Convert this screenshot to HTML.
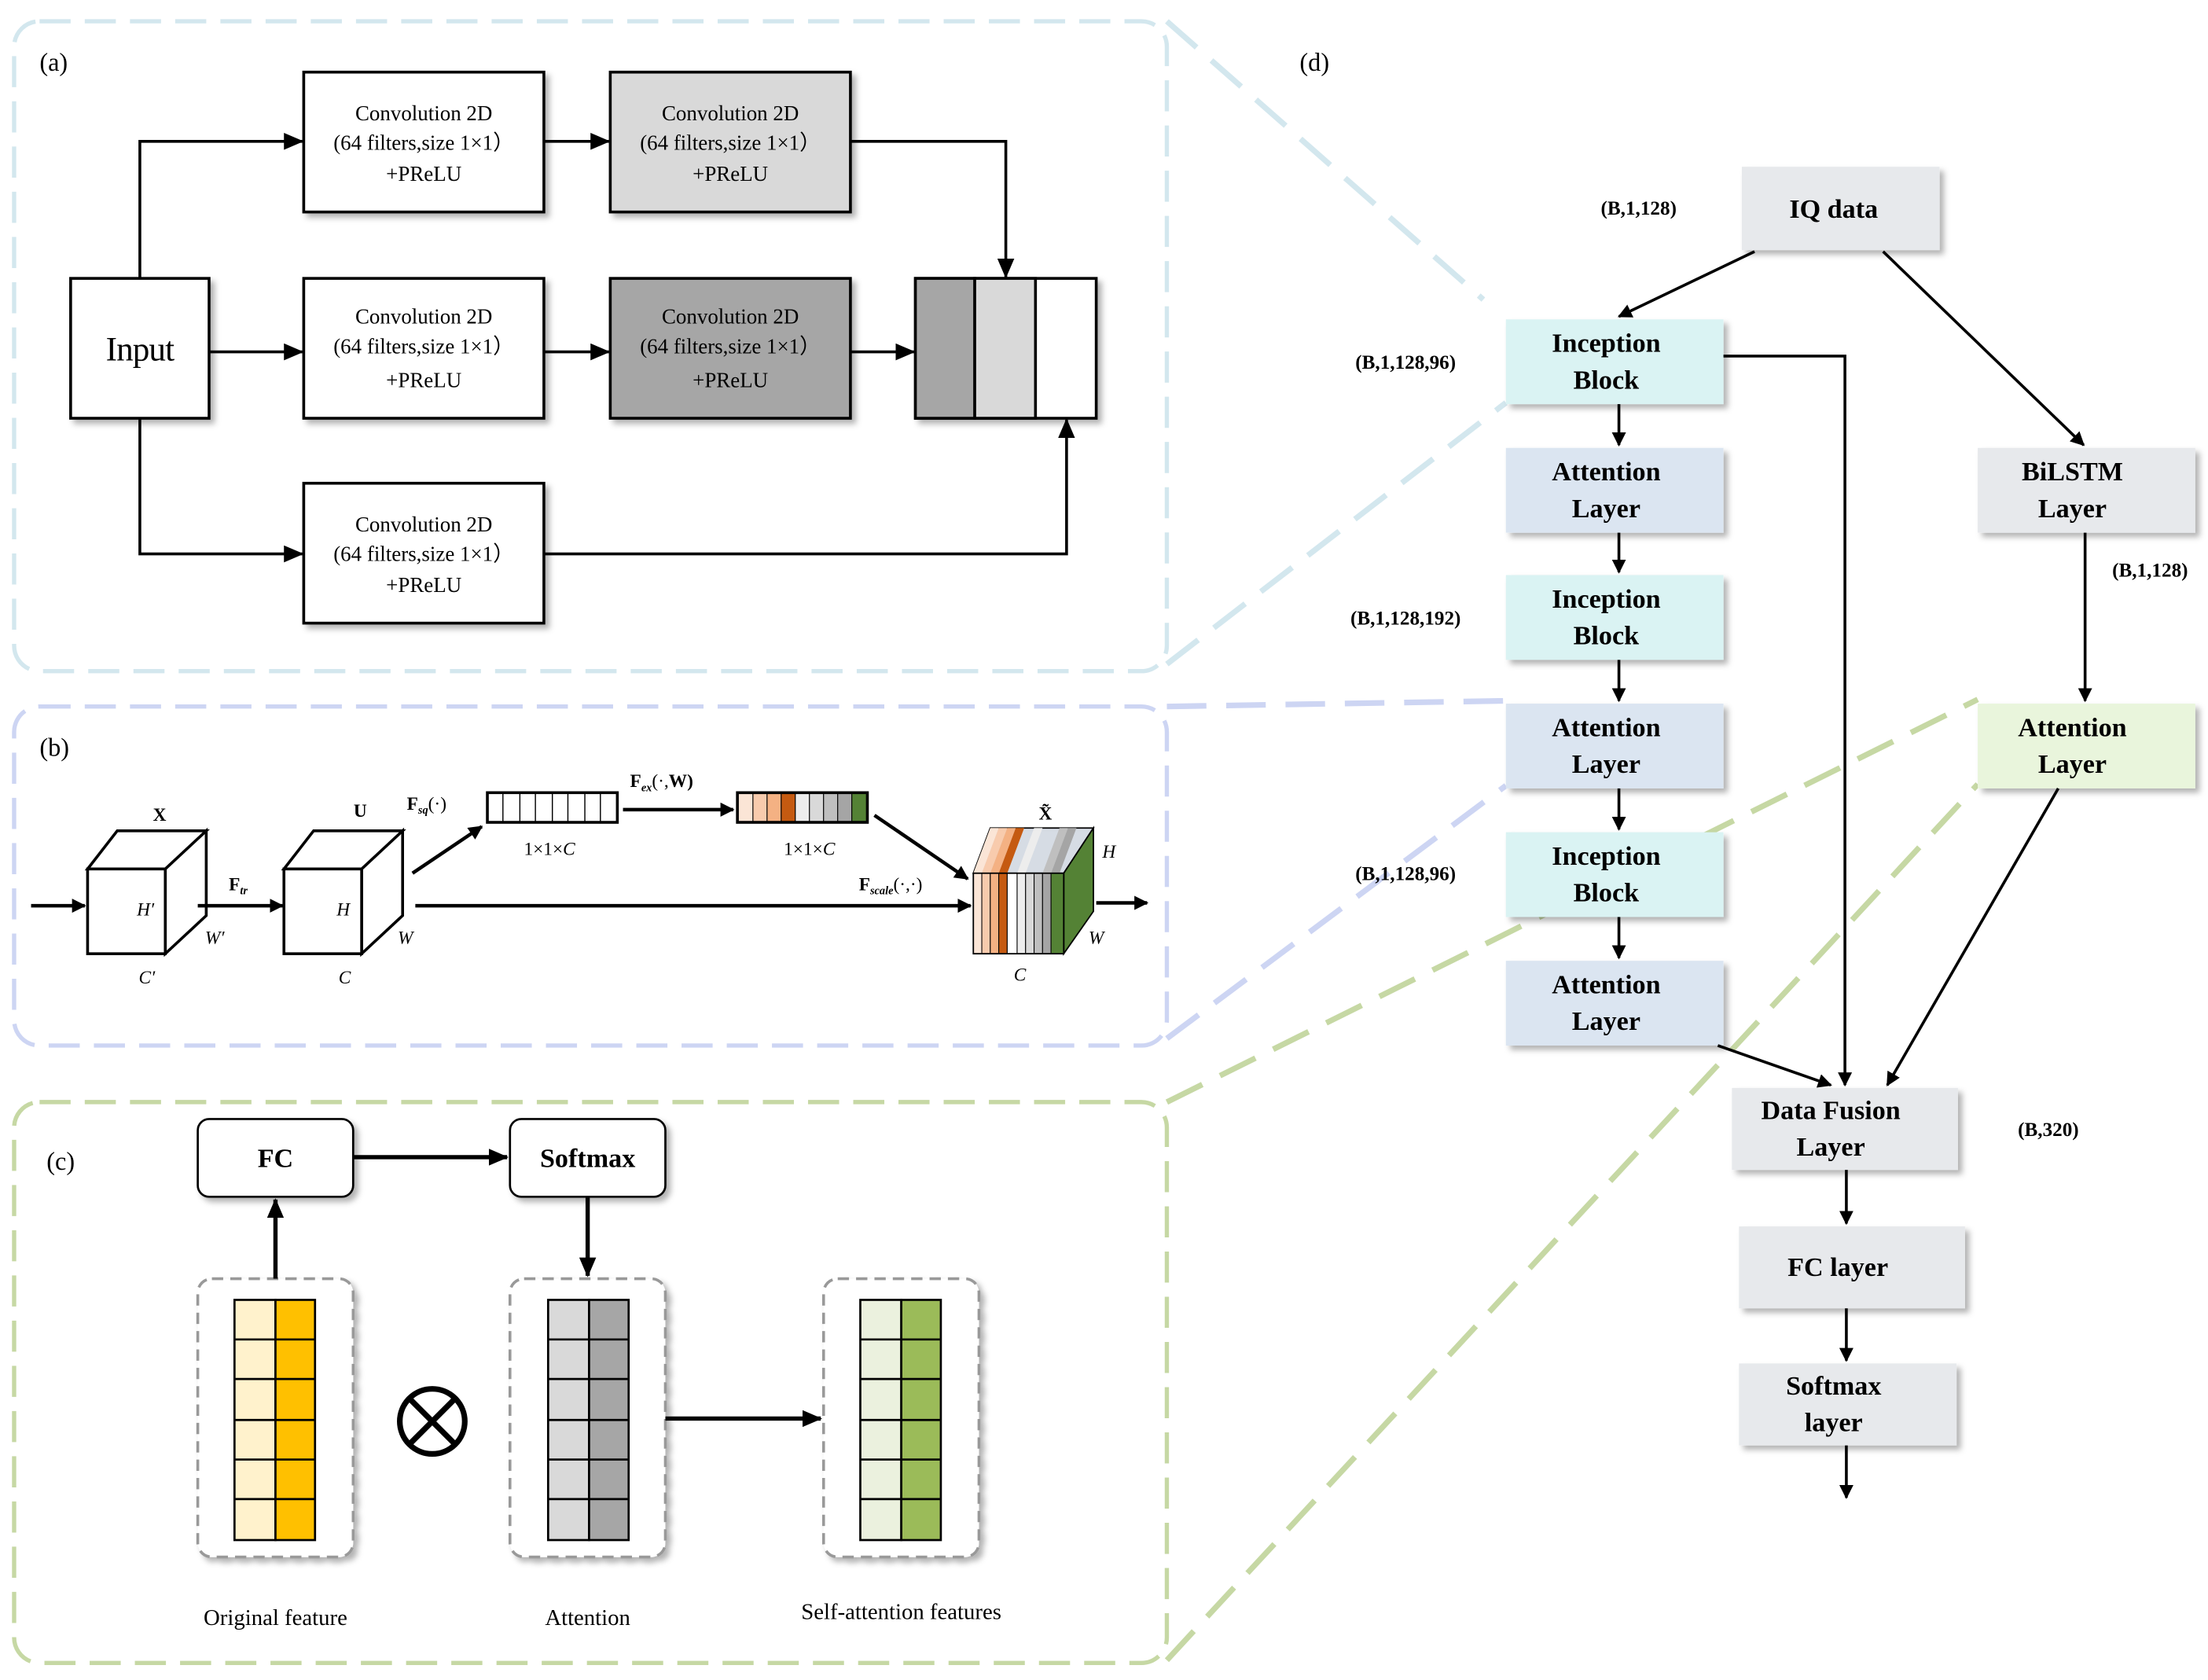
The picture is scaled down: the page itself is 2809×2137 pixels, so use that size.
<!DOCTYPE html>
<html><head><meta charset="utf-8"><style>
html,body{margin:0;padding:0;background:#fff;}
svg{display:block;font-family:"Liberation Serif","Times New Roman",serif;}
svg text{font-family:"Liberation Serif","Times New Roman",serif;}
</style></head><body>
<svg width="2809" height="2137" viewBox="0 0 1563 1189" xmlns="http://www.w3.org/2000/svg" font-family="Liberation Serif, serif">
<defs>
<marker id="a" markerWidth="10" markerHeight="10" refX="9" refY="5" orient="auto" markerUnits="userSpaceOnUse"><path d="M0,0 L10,5 L0,10 z" fill="#000"/></marker>
<marker id="b" markerWidth="14" markerHeight="12" refX="13" refY="6" orient="auto" markerUnits="userSpaceOnUse"><path d="M0,0 L14,6 L0,12 z" fill="#000"/></marker>
<filter id="s" x="-10%" y="-10%" width="130%" height="130%"><feDropShadow dx="3" dy="3" stdDeviation="2" flood-color="#000" flood-opacity="0.3"/></filter>
</defs>
<rect width="1563" height="1189" fill="#fff"/>
<rect x="10" y="15" width="816" height="460" rx="18" fill="none" stroke="#d3e7ee" stroke-width="3" stroke-dasharray="22,10"/>
<rect x="10" y="500" width="816" height="240" rx="18" fill="none" stroke="#cdd5f3" stroke-width="3" stroke-dasharray="22,10"/>
<rect x="10" y="780" width="816" height="397" rx="18" fill="none" stroke="#c6d8a4" stroke-width="3" stroke-dasharray="22,10"/>
<g stroke-width="4" stroke-dasharray="28,14" fill="none">
<line x1="826" y1="15" x2="1050" y2="212" stroke="#d3e7ee"/>
<line x1="826" y1="470" x2="1066" y2="285" stroke="#d3e7ee"/>
<line x1="826" y1="500" x2="1066" y2="496" stroke="#cdd5f3"/>
<line x1="826" y1="735" x2="1066" y2="556" stroke="#cdd5f3"/>
<line x1="826" y1="780" x2="1400" y2="495" stroke="#c6d8a4"/>
<line x1="826" y1="1175" x2="1400" y2="555" stroke="#c6d8a4"/>
</g>
<text x="28" y="50" font-size="18">(a)</text>
<g stroke="#000" stroke-width="2" filter="url(#s)">
<rect x="50" y="197" width="98" height="99" fill="#fff"/>
<rect x="215" y="51" width="170" height="99" fill="#fff"/>
<rect x="432" y="51" width="170" height="99" fill="#d9d9d9"/>
<rect x="215" y="197" width="170" height="99" fill="#fff"/>
<rect x="432" y="197" width="170" height="99" fill="#a6a6a6"/>
<rect x="215" y="342" width="170" height="99" fill="#fff"/>
<rect x="648" y="197" width="128" height="99" fill="#fff"/>
</g>
<rect x="648" y="197" width="42" height="99" fill="#a6a6a6" stroke="#000" stroke-width="2"/>
<rect x="690" y="197" width="43" height="99" fill="#d9d9d9" stroke="#000" stroke-width="2"/>
<text x="99" y="255" font-size="24" text-anchor="middle" style="letter-spacing:-0.5px">Input</text>
<g font-size="15" text-anchor="middle">
<text x="300" y="85">Convolution 2D</text><text x="300" y="106">(64 filters,size 1×1）</text><text x="300" y="128">+PReLU</text>
<text x="517" y="85">Convolution 2D</text><text x="517" y="106">(64 filters,size 1×1）</text><text x="517" y="128">+PReLU</text>
<text x="300" y="229">Convolution 2D</text><text x="300" y="250">(64 filters,size 1×1）</text><text x="300" y="274">+PReLU</text>
<text x="517" y="229">Convolution 2D</text><text x="517" y="250">(64 filters,size 1×1）</text><text x="517" y="274">+PReLU</text>
<text x="300" y="376">Convolution 2D</text><text x="300" y="397">(64 filters,size 1×1）</text><text x="300" y="419">+PReLU</text>
</g>
<g stroke="#000" stroke-width="2" fill="none" marker-end="url(#b)">
<polyline points="99,197 99,100 214,100"/>
<line x1="148" y1="249" x2="214" y2="249"/>
<polyline points="99,296 99,392 214,392"/>
<line x1="385" y1="100" x2="431" y2="100"/>
<line x1="385" y1="249" x2="431" y2="249"/>
<line x1="602" y1="249" x2="647" y2="249"/>
<polyline points="602,100 712,100 712,196"/>
<polyline points="385,392 755,392 755,297"/>
</g>
<text x="28" y="535" font-size="18">(b)</text>
<g stroke="#000" fill="#fff">
<path d="M62,615 L83,588 L146,588 L117,615 Z M117,615 L146,588 L146,648 L117,675 Z" stroke-width="2"/>
<rect x="62" y="615" width="55" height="60" stroke-width="2"/>
<path d="M201,615 L222,588 L285,588 L256,615 Z M256,615 L285,588 L285,648 L256,675 Z" stroke-width="2"/>
<rect x="201" y="615" width="55" height="60" stroke-width="2"/>
</g>
<g font-size="13" font-style="italic" text-anchor="middle">
<text x="103" y="648">H′</text><text x="152" y="668">W′</text><text x="104" y="696">C′</text>
<text x="243" y="648">H</text><text x="287" y="668">W</text><text x="244" y="696">C</text>
<text x="785" y="607">H</text><text x="776" y="668">W</text><text x="722" y="694">C</text>
</g>
<g font-size="13" font-weight="bold" text-anchor="middle">
<text x="113" y="581">X</text><text x="255" y="578">U</text><text x="740" y="580">X̃</text>
</g>
<text x="162" y="630" font-size="13" font-weight="bold">F<tspan font-size="8" dy="3" font-style="italic">tr</tspan></text>
<text x="288" y="573" font-size="13" font-weight="bold">F<tspan font-size="8" dy="3" font-style="italic">sq</tspan><tspan dy="-3" font-weight="normal">(·)</tspan></text>
<text x="446" y="557" font-size="13" font-weight="bold">F<tspan font-size="8" dy="3" font-style="italic">ex</tspan><tspan dy="-3" font-weight="normal">(·,</tspan>W)</text>
<text x="608" y="630" font-size="13" font-weight="bold">F<tspan font-size="8" dy="3" font-style="italic">scale</tspan><tspan dy="-3" font-weight="normal">(·,·)</tspan></text>
<g font-size="13" text-anchor="middle"><text x="389" y="605">1×1×<tspan font-style="italic">C</tspan></text><text x="573" y="605">1×1×<tspan font-style="italic">C</tspan></text></g>
<rect x="345" y="561" width="92" height="21" fill="#fff" stroke="#000" stroke-width="2"/>
<g stroke="#000" stroke-width="0.8"><line x1="356" y1="561" x2="356" y2="582"/><line x1="368" y1="561" x2="368" y2="582"/><line x1="379" y1="561" x2="379" y2="582"/><line x1="391" y1="561" x2="391" y2="582"/><line x1="402" y1="561" x2="402" y2="582"/><line x1="414" y1="561" x2="414" y2="582"/><line x1="425" y1="561" x2="425" y2="582"/></g>
<g stroke="#000" stroke-width="0.6">
<rect x="522" y="561" width="11" height="21" fill="#fbe5d6"/><rect x="533" y="561" width="10" height="21" fill="#f8cbad"/><rect x="543" y="561" width="10" height="21" fill="#f4b183"/><rect x="553" y="561" width="10" height="21" fill="#c55a11"/><rect x="563" y="561" width="10" height="21" fill="#ededed"/><rect x="573" y="561" width="10" height="21" fill="#d9d9d9"/><rect x="583" y="561" width="10" height="21" fill="#bfbfbf"/><rect x="593" y="561" width="10" height="21" fill="#a5a5a5"/><rect x="603" y="561" width="11" height="21" fill="#548235"/>
</g>
<rect x="522" y="561" width="92" height="21" fill="none" stroke="#000" stroke-width="2"/>
<path d="M689,618 L701,586 L774,586 L753,618 Z" fill="#d6dce4" stroke="#000" stroke-width="1"/>
<path d="M689,618 L701,586 L707,586 L695,618 Z" fill="#fbe5d6"/><path d="M695,618 L707,586 L713,586 L701,618 Z" fill="#f8cbad"/><path d="M701,618 L713,586 L719,586 L707,618 Z" fill="#f4b183"/><path d="M707,618 L719,586 L725,586 L713,618 Z" fill="#c55a11"/><path d="M720,618 L732,586 L738,586 L726,618 Z" fill="#ededed"/><path d="M738,618 L750,586 L756,586 L744,618 Z" fill="#bfbfbf"/><path d="M744,618 L756,586 L762,586 L750,618 Z" fill="#a5a5a5"/>
<path d="M753,618 L774,586 L774,645 L753,675 Z" fill="#548235" stroke="#000" stroke-width="1"/>
<g stroke="#000" stroke-width="0.6">
<rect x="689" y="618" width="6" height="57" fill="#fbe5d6"/><rect x="695" y="618" width="6" height="57" fill="#f8cbad"/><rect x="701" y="618" width="6" height="57" fill="#f4b183"/><rect x="707" y="618" width="6" height="57" fill="#c55a11"/><rect x="713" y="618" width="7" height="57" fill="#fff"/><rect x="720" y="618" width="6" height="57" fill="#ededed"/><rect x="726" y="618" width="6" height="57" fill="#d9d9d9"/><rect x="732" y="618" width="6" height="57" fill="#bfbfbf"/><rect x="738" y="618" width="6" height="57" fill="#a5a5a5"/><rect x="744" y="618" width="9" height="57" fill="#548235"/>
</g>
<rect x="689" y="618" width="64" height="57" fill="none" stroke="#000" stroke-width="1"/>
<g stroke="#000" stroke-width="2.5" fill="none" marker-end="url(#a)">
<line x1="22" y1="641" x2="60" y2="641"/>
<line x1="140" y1="641" x2="200" y2="641"/>
<line x1="294" y1="641" x2="687" y2="641"/>
<line x1="292" y1="618" x2="341" y2="585"/>
<line x1="441" y1="573" x2="519" y2="573"/>
<line x1="619" y1="577" x2="685" y2="622"/>
<line x1="776" y1="639" x2="812" y2="639"/>
</g>
<text x="33" y="828" font-size="18">(c)</text>
<g stroke="#000" stroke-width="1.5" filter="url(#s)" fill="#fff">
<rect x="140" y="792" width="110" height="55" rx="8"/>
<rect x="361" y="792" width="110" height="55" rx="8"/>
</g>
<g font-size="19" font-weight="bold" text-anchor="middle"><text x="195" y="826">FC</text><text x="416" y="826">Softmax</text></g>
<g fill="#fff" stroke="#999" stroke-width="2" stroke-dasharray="8,5" filter="url(#s)">
<rect x="140" y="905" width="110" height="197" rx="10"/>
<rect x="361" y="905" width="110" height="197" rx="10"/>
<rect x="583" y="905" width="110" height="197" rx="10"/>
</g>
<g stroke="#000" stroke-width="1.5">
<rect x="166" y="920" width="29" height="170" fill="#fff2cc"/><rect x="195" y="920" width="28" height="170" fill="#ffc000"/>
<rect x="388" y="920" width="29" height="170" fill="#d9d9d9"/><rect x="417" y="920" width="28" height="170" fill="#a6a6a6"/>
<rect x="609" y="920" width="29" height="170" fill="#ebf1de"/><rect x="638" y="920" width="28" height="170" fill="#9bbb59"/>
<path d="M166,948H223M166,976H223M166,1005H223M166,1033H223M166,1061H223 M388,948H445M388,976H445M388,1005H445M388,1033H445M388,1061H445 M609,948H666M609,976H666M609,1005H666M609,1033H666M609,1061H666" fill="none"/>
</g>
<circle cx="306" cy="1006" r="23" fill="#fff" stroke="#000" stroke-width="4"/>
<path d="M290,990L322,1022M322,990L290,1022" stroke="#000" stroke-width="4"/>
<g stroke="#000" stroke-width="3" fill="none" marker-end="url(#b)">
<line x1="250" y1="819" x2="359" y2="819"/>
<line x1="195" y1="905" x2="195" y2="849"/>
<line x1="416" y1="847" x2="416" y2="903"/>
<line x1="471" y1="1004" x2="581" y2="1004"/>
</g>
<g font-size="16" text-anchor="middle"><text x="195" y="1150">Original feature</text><text x="416" y="1150">Attention</text><text x="638" y="1146">Self-attention features</text></g>
<text x="920" y="50" font-size="18">(d)</text>
<g filter="url(#s)">
<rect x="1233" y="118" width="140" height="59" fill="#e7e9ec"/>
<rect x="1066" y="226" width="154" height="60" fill="#daf3f3"/>
<rect x="1066" y="317" width="154" height="60" fill="#dbe5f1"/>
<rect x="1066" y="407" width="154" height="60" fill="#daf3f3"/>
<rect x="1066" y="498" width="154" height="60" fill="#dbe5f1"/>
<rect x="1066" y="589" width="154" height="60" fill="#daf3f3"/>
<rect x="1066" y="680" width="154" height="60" fill="#dbe5f1"/>
<rect x="1400" y="317" width="154" height="60" fill="#e7e9ec"/>
<rect x="1400" y="498" width="154" height="60" fill="#e9f5dc"/>
<rect x="1226" y="770" width="160" height="58" fill="#e7e9ec"/>
<rect x="1231" y="868" width="160" height="58" fill="#e7e9ec"/>
<rect x="1231" y="965" width="154" height="58" fill="#e7e9ec"/>
</g>
<g font-size="19" font-weight="bold" text-anchor="middle">
<text x="1298" y="154">IQ data</text>
<text x="1137" y="249">Inception</text><text x="1137" y="275">Block</text>
<text x="1137" y="340">Attention</text><text x="1137" y="366">Layer</text>
<text x="1137" y="430">Inception</text><text x="1137" y="456">Block</text>
<text x="1137" y="521">Attention</text><text x="1137" y="547">Layer</text>
<text x="1137" y="612">Inception</text><text x="1137" y="638">Block</text>
<text x="1137" y="703">Attention</text><text x="1137" y="729">Layer</text>
<text x="1467" y="340">BiLSTM</text><text x="1467" y="366">Layer</text>
<text x="1467" y="521">Attention</text><text x="1467" y="547">Layer</text>
<text x="1296" y="792">Data Fusion</text><text x="1296" y="818">Layer</text>
<text x="1301" y="903">FC layer</text>
<text x="1298" y="987">Softmax</text><text x="1298" y="1013">layer</text>
</g>
<g font-size="14" font-weight="bold" text-anchor="middle">
<text x="1160" y="152">(B,1,128)</text>
<text x="995" y="261">(B,1,128,96)</text>
<text x="995" y="442">(B,1,128,192)</text>
<text x="995" y="623">(B,1,128,96)</text>
<text x="1522" y="408">(B,1,128)</text>
<text x="1450" y="804">(B,320)</text>
</g>
<g stroke="#000" stroke-width="2" fill="none" marker-end="url(#a)">
<line x1="1242" y1="178" x2="1146" y2="224"/>
<line x1="1333" y1="178" x2="1475" y2="315"/>
<line x1="1146" y1="286" x2="1146" y2="315"/>
<line x1="1146" y1="377" x2="1146" y2="405"/>
<line x1="1146" y1="467" x2="1146" y2="496"/>
<line x1="1146" y1="558" x2="1146" y2="587"/>
<line x1="1146" y1="649" x2="1146" y2="678"/>
<polyline points="1220,252 1306,252 1306,768"/>
<line x1="1476" y1="377" x2="1476" y2="496"/>
<line x1="1457" y1="558" x2="1336" y2="768"/>
<line x1="1216" y1="740" x2="1296" y2="768"/>
<line x1="1307" y1="828" x2="1307" y2="866"/>
<line x1="1307" y1="926" x2="1307" y2="963"/>
<line x1="1307" y1="1023" x2="1307" y2="1060"/>
</g>
</svg>
</body></html>
